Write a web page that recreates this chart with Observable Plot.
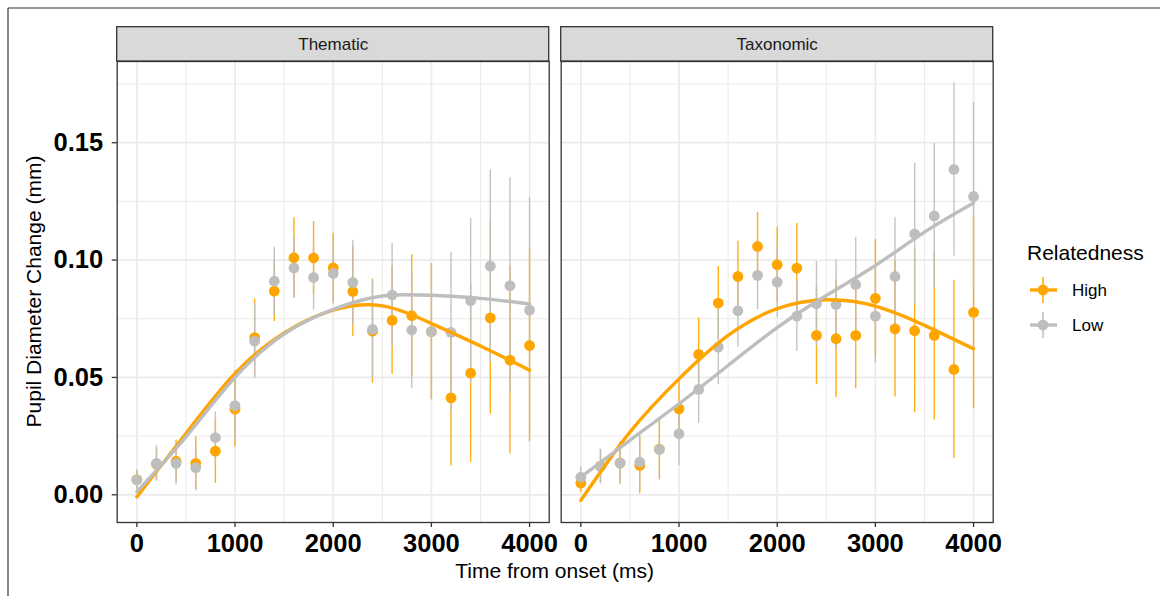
<!DOCTYPE html>
<html>
<head>
<meta charset="utf-8">
<script src="https://cdn.jsdelivr.net/npm/d3@7"></script>
<script src="https://cdn.jsdelivr.net/npm/@observablehq/plot@0.6"></script>
<style>
  html, body { margin: 0; padding: 0; background: white; }
  #chart { position: relative; width: 1160px; height: 596px; overflow: hidden; }
  svg text { font-family: "Liberation Sans", Arial, Helvetica, sans-serif; }
</style>
</head>
<body>
<div id="chart"></div>
<script>
// ---------- data ----------
const panels = ["Thematic", "Taxonomic"];
const groups = ["High", "Low"];
const groupColors = ["#FFA500", "#BEBEBE"];
const times = [0, 200, 400, 600, 800, 1000, 1200, 1400, 1600, 1800, 2000,
               2200, 2400, 2600, 2800, 3000, 3200, 3400, 3600, 3800, 4000];

const thematicHigh    = [0.0065, 0.0130, 0.0143, 0.0134, 0.0186, 0.0365, 0.0670, 0.0868, 0.1010, 0.1009, 0.0967,
                         0.0866, 0.0697, 0.0743, 0.0763, 0.0695, 0.0413, 0.0518, 0.0754, 0.0574, 0.0636];
const thematicHighErr = [0.0040, 0.0070, 0.0090, 0.0113, 0.0138, 0.0160, 0.0164, 0.0130, 0.0170, 0.0155, 0.0147,
                         0.0190, 0.0222, 0.0230, 0.0260, 0.0290, 0.0290, 0.0380, 0.0410, 0.0400, 0.0410];
const thematicLow     = [0.0063, 0.0134, 0.0134, 0.0116, 0.0244, 0.0380, 0.0655, 0.0910, 0.0967, 0.0926, 0.0943,
                         0.0905, 0.0705, 0.0851, 0.0702, 0.0695, 0.0692, 0.0827, 0.0974, 0.0891, 0.0787];
const thematicLowErr  = [0.0040, 0.0075, 0.0090, 0.0100, 0.0110, 0.0150, 0.0160, 0.0145, 0.0130, 0.0140, 0.0130,
                         0.0180, 0.0210, 0.0220, 0.0250, 0.0290, 0.0340, 0.0350, 0.0410, 0.0460, 0.0480];

const taxonomicHigh    = [0.0050, 0.0122, 0.0136, 0.0125, 0.0195, 0.0366, 0.0598, 0.0817, 0.0930, 0.1058, 0.0980,
                          0.0966, 0.0679, 0.0665, 0.0679, 0.0837, 0.0707, 0.0699, 0.0679, 0.0534, 0.0777];
const taxonomicHighErr = [0.0040, 0.0070, 0.0090, 0.0120, 0.0130, 0.0130, 0.0155, 0.0156, 0.0150, 0.0146, 0.0160,
                          0.0190, 0.0210, 0.0250, 0.0227, 0.0250, 0.0290, 0.0350, 0.0360, 0.0380, 0.0410];
const taxonomicLow     = [0.0075, 0.0121, 0.0135, 0.0139, 0.0193, 0.0260, 0.0449, 0.0629, 0.0784, 0.0935, 0.0906,
                          0.0761, 0.0814, 0.0811, 0.0896, 0.0761, 0.0930, 0.1111, 0.1188, 0.1386, 0.1271];
const taxonomicLowErr  = [0.0045, 0.0074, 0.0090, 0.0120, 0.0130, 0.0135, 0.0145, 0.0160, 0.0154, 0.0146, 0.0150,
                          0.0150, 0.0180, 0.0190, 0.0200, 0.0200, 0.0250, 0.0300, 0.0310, 0.0370, 0.0400];

// fitted (smoothed) curves
const fitTimes = [0, 500, 1000, 1500, 2000, 2500, 3000, 3500, 4000];
const thematicHighFit  = [-0.0009, 0.0261, 0.0517, 0.0690, 0.0787, 0.0805, 0.0730, 0.0634, 0.0531];
const thematicLowFit   = [ 0.0013, 0.0247, 0.0500, 0.0685, 0.0790, 0.0847, 0.0850, 0.0837, 0.0813];
const taxonomicHighFit = [-0.0024, 0.0267, 0.0494, 0.0679, 0.0793, 0.0831, 0.0804, 0.0722, 0.0622];
const taxonomicLowFit  = [ 0.0075, 0.0232, 0.0388, 0.0551, 0.0712, 0.0849, 0.0977, 0.1119, 0.1243];

const xTicks = [0, 1000, 2000, 3000, 4000];
const xMinor = [500, 1500, 2500, 3500];
const yTicks = [0, 0.05, 0.10, 0.15];
const yMinor = [0.025, 0.075, 0.125, 0.175];

// ---------- tables ----------
const series = [
  {panel: "Thematic",  group: "High", mean: thematicHigh,  err: thematicHighErr,  fit: thematicHighFit},
  {panel: "Taxonomic", group: "High", mean: taxonomicHigh, err: taxonomicHighErr, fit: taxonomicHighFit},
  {panel: "Thematic",  group: "Low",  mean: thematicLow,   err: thematicLowErr,   fit: thematicLowFit},
  {panel: "Taxonomic", group: "Low",  mean: taxonomicLow,  err: taxonomicLowErr,  fit: taxonomicLowFit}
];
const pts = series.flatMap(s => times.map((t, i) => ({
  panel: s.panel, group: s.group, time: t, mean: s.mean[i],
  lo: s.mean[i] - s.err[i], hi: s.mean[i] + s.err[i]
})));
const fits = series.flatMap(s => fitTimes.map((t, i) => ({
  panel: s.panel, group: s.group, key: s.panel + s.group, time: t, value: s.fit[i]
})));

// ---------- geometry ----------
const W = 1160, H = 596;
const mL = 116.7, mR = 167.3, mT = 61, mB = 74;
const xDomain = [-200, 4200];
const yDomain = [-0.0118, 0.1846];
const pxPerY = (H - mT - mB) / (yDomain[1] - yDomain[0]);
const stripPx = 34.3;
const stripTop = yDomain[1] + stripPx / pxPerY;
const stripMid = yDomain[1] + stripPx / 2 / pxPerY;

const grid = {stroke: "#EBEBEB", strokeOpacity: 1};

const plot = Plot.plot({
  width: W, height: H,
  marginLeft: mL, marginRight: mR, marginTop: mT, marginBottom: mB,
  style: {background: "white", fontFamily: "Liberation Sans, Arial, sans-serif", overflow: "visible"},
  x: {domain: xDomain, axis: null, label: null},
  y: {domain: yDomain, axis: null, label: null},
  fx: {domain: panels, paddingInner: 0.027, paddingOuter: 0, round: false, axis: null, label: null},
  color: {domain: groups, range: groupColors},
  marks: [
    Plot.gridX(xMinor, {...grid, strokeWidth: 1.0}),
    Plot.gridY(yMinor, {...grid, strokeWidth: 1.0}),
    Plot.gridX(xTicks, {...grid, strokeWidth: 1.7}),
    Plot.gridY(yTicks, {...grid, strokeWidth: 1.7}),
    Plot.ruleX(pts, {fx: "panel", x: "time", y1: "lo", y2: "hi", stroke: "group", strokeWidth: 1.4, strokeOpacity: 0.9}),
    Plot.dot(pts, {fx: "panel", x: "time", y: "mean", fill: "group", r: 5.4, stroke: "none"}),
    Plot.line(fits, {fx: "panel", x: "time", y: "value", z: "key", stroke: "group", strokeWidth: 3.4, curve: "natural"}),
    Plot.frame({stroke: "#333333", strokeWidth: 1.3}),
    Plot.rect(panels, {fx: d => d, x1: () => xDomain[0], x2: () => xDomain[1], y1: () => yDomain[1], y2: () => stripTop,
      fill: "#D9D9D9", stroke: "#333333", strokeWidth: 1.3}),
    Plot.text(panels, {fx: d => d, x: () => (xDomain[0] + xDomain[1]) / 2, y: () => stripMid, text: d => d,
      fontSize: 17, fill: "#1A1A1A"}),
    Plot.axisX(xTicks, {anchor: "bottom", tickSize: 5, tickPadding: 6, fontSize: 25.5, fontWeight: "bold",
      stroke: "#333333", fill: "black", strokeWidth: 1.3, label: null, tickFormat: d3.format("d")}),
    Plot.axisY(yTicks, {anchor: "left", tickSize: 5, tickPadding: 9, fontSize: 25.5, fontWeight: "bold",
      stroke: "#333333", fill: "black", strokeWidth: 1.3, label: null, tickFormat: d3.format(".2f")})
  ]
});

const svg = d3.select(plot);
// outer border (left and top edges visible)
svg.append("line").attr("x1", 8).attr("y1", 8).attr("x2", W).attr("y2", 8).attr("stroke", "#333").attr("stroke-width", 1.2);
svg.append("line").attr("x1", 8).attr("y1", 8).attr("x2", 8).attr("y2", H).attr("stroke", "#333").attr("stroke-width", 1.2);

// axis titles
svg.append("text").attr("x", (mL + (W - mR)) / 2).attr("y", 578).attr("text-anchor", "middle")
  .attr("font-size", 21).attr("fill", "black").text("Time from onset (ms)");
svg.append("text").attr("transform", `translate(41,${(mT + (H - mB)) / 2}) rotate(-90)`).attr("text-anchor", "middle")
  .attr("font-size", 21).attr("fill", "black").text("Pupil Diameter Change (mm)");

// legend
const lg = svg.append("g").attr("text-anchor", "start");
lg.append("text").attr("x", 1027).attr("y", 260).attr("text-anchor", "start").attr("font-size", 21).attr("fill", "black").text("Relatedness");
groups.forEach((g, i) => {
  const cy = 290 + i * 35;
  const c = groupColors[i];
  lg.append("line").attr("x1", 1043).attr("x2", 1043).attr("y1", cy - 13).attr("y2", cy + 13).attr("stroke", c).attr("stroke-width", 1.5);
  lg.append("line").attr("x1", 1030).attr("x2", 1057).attr("y1", cy).attr("y2", cy).attr("stroke", c).attr("stroke-width", 3.4);
  lg.append("circle").attr("cx", 1043).attr("cy", cy).attr("r", 5.4).attr("fill", c);
  lg.append("text").attr("x", 1072).attr("y", cy + 6).attr("text-anchor", "start").attr("font-size", 17).attr("fill", "black").text(g);
});

document.getElementById("chart").appendChild(plot);
</script>
</body>
</html>
